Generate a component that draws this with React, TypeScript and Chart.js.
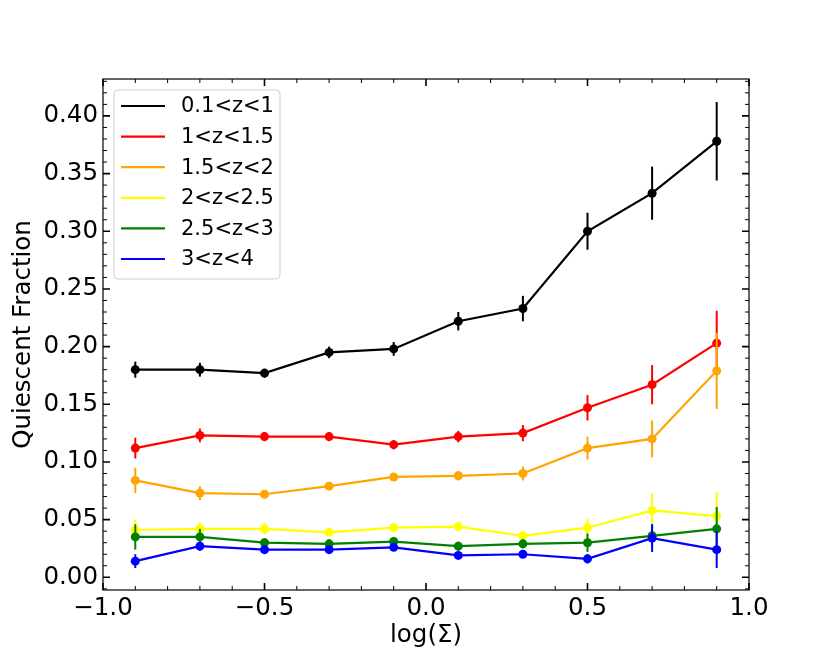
import React, { useEffect, useRef } from 'react';
import { Chart, registerables } from 'chart.js';

Chart.register(...registerables);

// log(Sigma) bin centres
const sigma = [-0.9, -0.7, -0.5, -0.3, -0.1, 0.1, 0.3, 0.5, 0.7, 0.9];

const seriesLabels = ['0.1<z<1', '1<z<1.5', '1.5<z<2', '2<z<2.5', '2.5<z<3', '3<z<4'];
const seriesColors = ['#000000', '#ff0000', '#ffa500', '#ffff00', '#008000', '#0000ff'];

const fracZ01 = [0.180, 0.180, 0.177, 0.195, 0.198, 0.222, 0.233, 0.300, 0.333, 0.378];
const errZ01 = [0.007, 0.006, 0.004, 0.005, 0.006, 0.008, 0.011, 0.016, 0.023, 0.034];
const fracZ1 = [0.112, 0.123, 0.122, 0.122, 0.115, 0.122, 0.125, 0.147, 0.167, 0.203];
const errZ1 = [0.009, 0.006, 0.004, 0.004, 0.004, 0.005, 0.007, 0.011, 0.017, 0.028];
const fracZ15 = [0.084, 0.073, 0.072, 0.079, 0.087, 0.088, 0.090, 0.112, 0.120, 0.179];
const errZ15 = [0.011, 0.006, 0.003, 0.003, 0.003, 0.004, 0.006, 0.010, 0.016, 0.033];
const fracZ2 = [0.041, 0.042, 0.042, 0.039, 0.043, 0.044, 0.036, 0.043, 0.058, 0.053];
const errZ2 = [0.009, 0.006, 0.005, 0.003, 0.004, 0.004, 0.004, 0.008, 0.015, 0.021];
const fracZ25 = [0.035, 0.035, 0.030, 0.029, 0.031, 0.027, 0.029, 0.030, 0.036, 0.042];
const errZ25 = [0.011, 0.007, 0.004, 0.004, 0.004, 0.004, 0.004, 0.008, 0.010, 0.019];
const fracZ3 = [0.014, 0.027, 0.024, 0.024, 0.026, 0.019, 0.020, 0.016, 0.034, 0.024];
const errZ3 = [0.006, 0.004, 0.003, 0.003, 0.003, 0.003, 0.003, 0.004, 0.012, 0.016];

const fractions = [fracZ01, fracZ1, fracZ15, fracZ2, fracZ25, fracZ3];
const errors = [errZ01, errZ1, errZ15, errZ2, errZ25, errZ3];

const xTicks = [-1.0, -0.5, 0.0, 0.5, 1.0];
const yTicks = [0.0, 0.05, 0.1, 0.15, 0.2, 0.25, 0.3, 0.35, 0.4];

const FONT = "'DejaVu Sans', sans-serif";
const AXIS_SIZE = 24.5;

const fmt = (v: number, d: number) => v.toFixed(d).replace('-', '\u2212');

// vertical error bars, drawn under each series
const errorBars = {
  id: 'errorBars',
  beforeDatasetDraw(chart: any, args: any) {
    const i = args.index;
    const { ctx, scales } = chart;
    ctx.save();
    ctx.strokeStyle = seriesColors[i];
    ctx.lineWidth = 2;
    sigma.forEach((x, j) => {
      const px = scales.x.getPixelForValue(x);
      const y0 = scales.y.getPixelForValue(fractions[i][j] - errors[i][j]);
      const y1 = scales.y.getPixelForValue(fractions[i][j] + errors[i][j]);
      ctx.beginPath();
      ctx.moveTo(px, y0);
      ctx.lineTo(px, y1);
      ctx.stroke();
    });
    ctx.restore();
  },
};

// box frame with inward major + minor ticks on all sides
const frame = {
  id: 'frame',
  afterDatasetsDraw(chart: any) {
    const { ctx, chartArea: a, scales } = chart;
    ctx.save();
    ctx.strokeStyle = '#000';
    ctx.lineWidth = 1.2;
    ctx.strokeRect(a.left, a.top, a.right - a.left, a.bottom - a.top);

    const tickX = (v: number, len: number) => {
      const px = scales.x.getPixelForValue(v);
      ctx.beginPath();
      ctx.moveTo(px, a.bottom);
      ctx.lineTo(px, a.bottom - len);
      ctx.moveTo(px, a.top);
      ctx.lineTo(px, a.top + len);
      ctx.stroke();
    };
    const tickY = (v: number, len: number) => {
      const py = scales.y.getPixelForValue(v);
      ctx.beginPath();
      ctx.moveTo(a.left, py);
      ctx.lineTo(a.left + len, py);
      ctx.moveTo(a.right, py);
      ctx.lineTo(a.right - len, py);
      ctx.stroke();
    };

    ctx.lineWidth = 1;
    for (let k = Math.ceil(scales.x.min / 0.1 - 1e-9); k <= Math.floor(scales.x.max / 0.1 + 1e-9); k++) {
      if (k % 5 !== 0) tickX(k * 0.1, 4);
    }
    for (let k = Math.ceil(scales.y.min / 0.01); k <= Math.floor(scales.y.max / 0.01); k++) {
      if (k % 5 !== 0) tickY(k * 0.01, 4);
    }
    ctx.lineWidth = 1.6;
    xTicks.forEach((v) => tickX(v, 7));
    yTicks.forEach((v) => tickY(v, 7));
    ctx.restore();
  },
};

const legendBox = {
  id: 'legendBox',
  afterDraw(chart: any) {
    const { ctx, chartArea: a } = chart;
    const bx = a.left + 11;
    const by = a.top + 11;
    ctx.save();
    ctx.beginPath();
    ctx.roundRect(bx, by, 166, 189, 4);
    ctx.fillStyle = 'rgba(255,255,255,0.8)';
    ctx.fill();
    ctx.strokeStyle = '#d0d0d0';
    ctx.lineWidth = 1;
    ctx.stroke();
    ctx.font = `21px ${FONT}`;
    ctx.textBaseline = 'middle';
    ctx.textAlign = 'left';
    seriesLabels.forEach((label, i) => {
      const y = by + 16 + i * 30.6;
      ctx.strokeStyle = seriesColors[i];
      ctx.lineWidth = 2.2;
      ctx.beginPath();
      ctx.moveTo(bx + 7, y);
      ctx.lineTo(bx + 51, y);
      ctx.stroke();
      ctx.fillStyle = '#000';
      ctx.fillText(label, bx + 67, y + 1);
    });
    ctx.restore();
  },
};

const App = () => {
  const canvasRef = useRef<HTMLCanvasElement>(null);
  const chartRef = useRef<Chart | null>(null);

  useEffect(() => {
    document.body.style.margin = '0';
    if (!canvasRef.current) return;
    if (chartRef.current) chartRef.current.destroy();

    const datasets = seriesLabels.map((label, i) => ({
      label,
      data: sigma.map((x, j) => ({ x, y: fractions[i][j] })),
      showLine: true,
      borderColor: seriesColors[i],
      backgroundColor: seriesColors[i],
      borderWidth: 2.2,
      pointRadius: 4.5,
      pointBorderWidth: 0,
      order: seriesLabels.length - i,
    }));

    chartRef.current = new Chart(canvasRef.current, {
      type: 'scatter',
      data: { datasets },
      plugins: [errorBars, frame, legendBox],
      options: {
        responsive: false,
        animation: false,
        layout: { padding: { left: 0, top: 79, right: 81, bottom: 0 } },
        plugins: { legend: { display: false }, tooltip: { enabled: false } },
        scales: {
          x: {
            type: 'linear',
            min: -1,
            max: 1,
            grid: { display: false, drawTicks: false },
            border: { display: false },
            afterBuildTicks: (s: any) => {
              s.ticks = xTicks.map((value) => ({ value }));
            },
            afterFit: (s: any) => {
              s.height = 74;
            },
            ticks: {
              color: '#000',
              padding: 4,
              font: { family: FONT, size: AXIS_SIZE },
              callback: (v: any) => fmt(Number(v), 1),
            },
            title: {
              display: true,
              text: 'log(\u03a3)',
              color: '#000',
              font: { family: FONT, size: AXIS_SIZE },
              padding: { top: 0, bottom: 14 },
            },
          },
          y: {
            type: 'linear',
            min: -0.011,
            max: 0.432,
            grid: { display: false, drawTicks: false },
            border: { display: false },
            afterBuildTicks: (s: any) => {
              s.ticks = yTicks.map((value) => ({ value }));
            },
            afterFit: (s: any) => {
              s.width = 103;
            },
            ticks: {
              color: '#000',
              padding: 5,
              font: { family: FONT, size: AXIS_SIZE },
              callback: (v: any) => fmt(Number(v), 2),
            },
            title: {
              display: true,
              text: 'Quiescent Fraction',
              color: '#000',
              font: { family: FONT, size: AXIS_SIZE },
              padding: { top: 9, bottom: 0 },
            },
          },
        },
      },
    });

    return () => {
      if (chartRef.current) {
        chartRef.current.destroy();
        chartRef.current = null;
      }
    };
  }, []);

  return (
    <div style={{ width: 830, height: 664, background: '#fff' }}>
      <canvas ref={canvasRef} width={830} height={664}></canvas>
    </div>
  );
};

export default App;
